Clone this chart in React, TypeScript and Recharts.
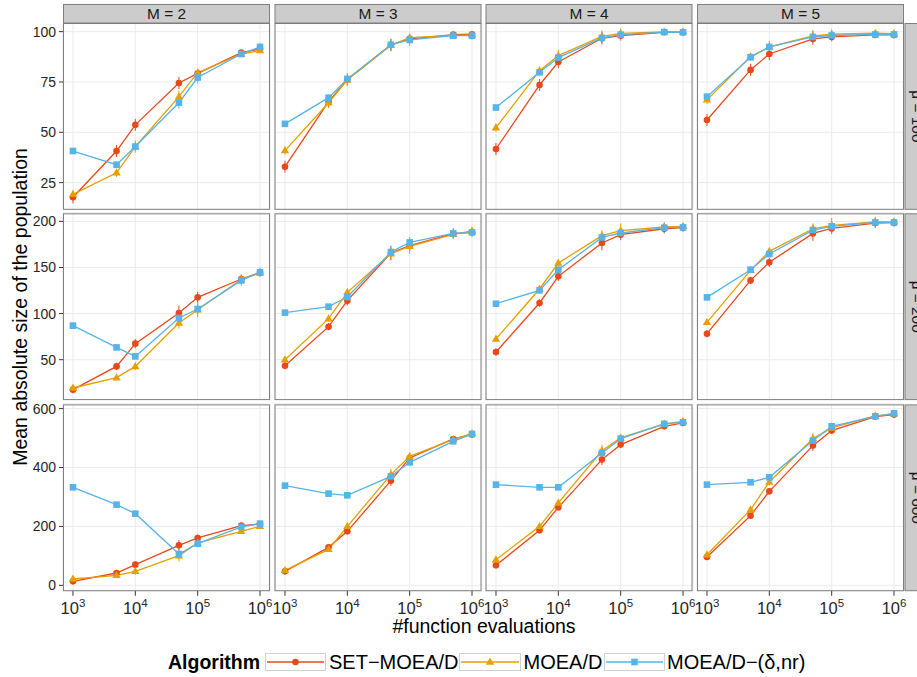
import React from "react";
import { LineChart, Line, XAxis, YAxis, CartesianGrid, ErrorBar } from "recharts";

// ---------------- data ----------------
const evaluations = [1e3, 5e3, 1e4, 5e4, 1e5, 5e5, 1e6];
const muLevels = [100, 200, 600];
const mLevels = [2, 3, 4, 5];
const algorithms = ["SET\u2212MOEA/D", "MOEA/D", "MOEA/D\u2212(\u03b4,nr)"];
const majorTicks = [3, 4, 5, 6];
const yTicks100 = [25, 50, 75, 100];
const yTicks200 = [50, 100, 150, 200];
const yTicks600 = [0, 200, 400, 600];

// mu = 100
const SET_mu100_M2 = [17.7, 40.7, 53.7, 74.5, 79.3, 89.6, 91.4];
const MOEAD_mu100_M2 = [19.2, 29.9, 42.9, 67.7, 79.6, 88.8, 90.6];
const DNR_mu100_M2 = [40.7, 33.9, 42.9, 64.7, 77.2, 88.9, 92.4];
const SET_mu100_M3 = [32.9, 65.2, 76.3, 93.4, 96.4, 98.5, 98.7];
const MOEAD_mu100_M3 = [40.9, 64.7, 76.0, 93.2, 97.0, 98.2, 98.4];
const DNR_mu100_M3 = [54.2, 67.2, 76.5, 93.5, 95.9, 98.0, 98.0];
const SET_mu100_M4 = [41.7, 73.5, 84.9, 96.7, 98.0, 99.7, 99.7];
const MOEAD_mu100_M4 = [52.3, 80.6, 88.1, 97.7, 99.1, 99.9, 99.9];
const DNR_mu100_M4 = [62.3, 79.8, 87.1, 96.9, 98.5, 99.8, 99.7];
const SET_mu100_M5 = [56.1, 81.0, 88.9, 96.4, 97.4, 98.4, 98.4];
const MOEAD_mu100_M5 = [66.1, 87.6, 92.4, 97.9, 98.7, 99.2, 99.0];
const DNR_mu100_M5 = [67.7, 87.3, 92.4, 97.4, 98.1, 98.6, 98.6];

// mu = 200
const SET_mu200_M2 = [17.5, 42.7, 67.4, 100.6, 117.6, 137.5, 144.4];
const MOEAD_mu200_M2 = [19.3, 30.5, 42.7, 89.8, 104.2, 136.8, 144.4];
const DNR_mu200_M2 = [86.9, 63.3, 53.6, 95.2, 105.0, 136.0, 144.7];
const SET_mu200_M3 = [43.5, 85.8, 114.0, 165.7, 173.6, 186.7, 188.1];
const MOEAD_mu200_M3 = [50.0, 94.5, 123.0, 165.0, 172.9, 185.9, 189.6];
const DNR_mu200_M3 = [101.0, 107.5, 118.0, 166.8, 177.2, 187.0, 188.1];
const SET_mu200_M4 = [58.3, 111.5, 140.4, 176.6, 185.6, 192.0, 193.2];
const MOEAD_mu200_M4 = [72.5, 126.7, 154.8, 184.5, 189.9, 193.9, 194.6];
const DNR_mu200_M4 = [110.7, 125.2, 147.6, 182.6, 187.4, 193.2, 193.5];
const SET_mu200_M5 = [78.2, 136.0, 155.6, 187.0, 192.4, 198.2, 198.6];
const MOEAD_mu200_M5 = [90.5, 146.9, 167.5, 192.0, 195.7, 199.5, 199.5];
const DNR_mu200_M5 = [117.6, 147.6, 164.6, 190.6, 194.6, 198.9, 198.9];

// mu = 600
const SET_mu600_M2 = [13.4, 41.8, 70.1, 135.7, 160.8, 202.6, 208.3];
const MOEAD_mu600_M2 = [21.5, 33.8, 47.4, 100.7, 143.8, 183.3, 200.2];
const DNR_mu600_M2 = [332.7, 273.9, 243.3, 106.4, 141.4, 198.2, 209.4];
const SET_mu600_M3 = [47.4, 128.9, 183.3, 355.4, 432.5, 497.0, 511.7];
const MOEAD_mu600_M3 = [50.8, 122.1, 200.2, 375.8, 438.0, 494.7, 516.0];
const DNR_mu600_M3 = [338.4, 311.3, 305.6, 370.0, 417.6, 488.9, 514.0];
const SET_mu600_M4 = [67.8, 186.7, 264.8, 426.8, 477.7, 539.9, 551.4];
const MOEAD_mu600_M4 = [87.1, 200.2, 279.7, 457.0, 500.4, 548.0, 556.9];
const DNR_mu600_M4 = [341.8, 332.7, 332.7, 449.5, 498.0, 548.0, 553.5];
const SET_mu600_M5 = [96.3, 236.6, 319.1, 474.3, 525.3, 572.8, 579.6];
const MOEAD_mu600_M5 = [104.0, 256.9, 351.0, 498.0, 534.4, 575.2, 582.0];
const DNR_mu600_M5 = [341.8, 349.7, 366.7, 491.3, 539.9, 573.9, 584.0];

// error bar half-widths (per row, per algorithm)
const ERR_SET_mu100 = [3, 3, 3, 3, 2, 1, 1];
const ERR_MOEAD_mu100 = [2, 2, 3, 3, 2, 1, 1];
const ERR_DNR_mu100 = [1, 1, 2, 3, 3, 1, 2];
const ERR_SET_mu200 = [4, 4, 5, 8, 6, 5, 3];
const ERR_MOEAD_mu200 = [3, 3, 4, 6, 8, 4, 3];
const ERR_DNR_mu200 = [2, 2, 3, 5, 6, 6, 5];
const ERR_SET_mu600 = [8, 8, 10, 18, 12, 8, 6];
const ERR_MOEAD_mu600 = [8, 8, 12, 20, 12, 8, 6];
const ERR_DNR_mu600 = [5, 5, 6, 10, 12, 8, 6];

// ---------------- tables built from the arrays ----------------
const panelSeries = [
  [
    [SET_mu100_M2, MOEAD_mu100_M2, DNR_mu100_M2],
    [SET_mu100_M3, MOEAD_mu100_M3, DNR_mu100_M3],
    [SET_mu100_M4, MOEAD_mu100_M4, DNR_mu100_M4],
    [SET_mu100_M5, MOEAD_mu100_M5, DNR_mu100_M5],
  ],
  [
    [SET_mu200_M2, MOEAD_mu200_M2, DNR_mu200_M2],
    [SET_mu200_M3, MOEAD_mu200_M3, DNR_mu200_M3],
    [SET_mu200_M4, MOEAD_mu200_M4, DNR_mu200_M4],
    [SET_mu200_M5, MOEAD_mu200_M5, DNR_mu200_M5],
  ],
  [
    [SET_mu600_M2, MOEAD_mu600_M2, DNR_mu600_M2],
    [SET_mu600_M3, MOEAD_mu600_M3, DNR_mu600_M3],
    [SET_mu600_M4, MOEAD_mu600_M4, DNR_mu600_M4],
    [SET_mu600_M5, MOEAD_mu600_M5, DNR_mu600_M5],
  ],
];
const rowErrors = [
  [ERR_SET_mu100, ERR_MOEAD_mu100, ERR_DNR_mu100],
  [ERR_SET_mu200, ERR_MOEAD_mu200, ERR_DNR_mu200],
  [ERR_SET_mu600, ERR_MOEAD_mu600, ERR_DNR_mu600],
];
const rowYTicks = [yTicks100, yTicks200, yTicks600];

const tables = panelSeries.map((row, r) =>
  row.map((series) =>
    evaluations.map((ev, i) => ({
      lx: Math.log10(ev),
      s0: series[0][i],
      s1: series[1][i],
      s2: series[2][i],
      e0: rowErrors[r][0][i],
      e1: rowErrors[r][1][i],
      e2: rowErrors[r][2][i],
    }))
  )
);

// ---------------- layout / style ----------------
const FONT = '"Liberation Sans", Arial, Helvetica, sans-serif';
const COLORS = ["#E8481C", "#E69F00", "#56B4E9"];
const rowTops = [23, 213.3, 404.4];
const colLefts = [63, 274.5, 485.5, 697];
const PW = 207;
const PH = 186.8;
const YW = 63;
const XH = 40;
const MT = 10; // extra room above plot so labels are not clipped
const MS = 14; // extra room at the sides for x labels
const X_DOMAIN: [number, number] = [2.84, 6.16];
const yDomains: [number, number][] = [
  [11.5, 104.3],
  [6.5, 209.1],
  [-18.6, 615.6],
];

const LOG_TICKS: number[] = [];
for (let n = 2; n <= 6; n++) {
  for (let k = 1; k <= 9; k++) {
    const v = Math.log10(k * Math.pow(10, n));
    if (v > X_DOMAIN[0] + 0.004 && v < X_DOMAIN[1]) LOG_TICKS.push(v);
  }
}

const EmptyTick = () => <g />;

const XTick = (props: any) => {
  const { x, y, payload } = props;
  return (
    <g>
      <line x1={x} x2={x} y1={y} y2={y + 5} stroke="#333" strokeWidth={1} />
      <text x={x} y={y + 23} textAnchor="middle" fontFamily={FONT} fill="#262626">
        <tspan fontSize={16.5}>10</tspan>
        <tspan fontSize={11.5} dy={-7}>
          {String(payload.value)}
        </tspan>
      </text>
    </g>
  );
};

const LogTick = (props: any) => {
  const { x, payload } = props;
  const v = payload.value;
  const k = Math.round(Math.pow(10, v - Math.floor(v + 1e-9)));
  const len = k === 1 ? 9 : k === 5 ? 6 : 3.5;
  const bottom = MT + PH;
  return <line x1={x} x2={x} y1={bottom} y2={bottom - len} stroke="#000" strokeWidth={0.9} />;
};

const renderMarker = (k: number, cx: number, cy: number, key?: any) => {
  if (k === 0) return <circle key={key} cx={cx} cy={cy} r={3.3} fill={COLORS[0]} />;
  if (k === 1) {
    const s = 4.4;
    return (
      <path
        key={key}
        d={`M${cx},${cy - s} L${cx + s * 0.95},${cy + s * 0.62} L${cx - s * 0.95},${cy + s * 0.62} Z`}
        fill={COLORS[1]}
      />
    );
  }
  return <rect key={key} x={cx - 3.3} y={cy - 3.3} width={6.6} height={6.6} fill={COLORS[2]} />;
};

const dotFor = (k: number) => (props: any) => {
  const { cx, cy, index } = props;
  if (cx == null || cy == null) return <g key={index} />;
  return renderMarker(k, cx, cy, index);
};

function Panel({ r, c }: { r: number; c: number }) {
  const showY = c === 0;
  const showX = r === 2;
  const ml = showY ? 0 : MS;
  const width = PW + (showY ? YW : 0) + ml + MS;
  const height = PH + (showX ? XH : 0) + MT;
  return (
    <div
      style={{
        position: "absolute",
        left: colLefts[c] - (showY ? YW : 0) - ml,
        top: rowTops[r] - MT,
      }}
    >
      <LineChart
        width={width}
        height={height}
        data={tables[r][c]}
        margin={{ top: MT, right: MS, bottom: 0, left: ml }}
      >
        <CartesianGrid stroke="#ebebeb" strokeWidth={1} />
        <XAxis
          xAxisId={0}
          dataKey="lx"
          type="number"
          domain={X_DOMAIN}
          ticks={majorTicks}
          interval={0}
          allowDataOverflow
          height={showX ? XH : 0}
          axisLine={false}
          tickLine={false}
          tickSize={0}
          tickMargin={0}
          tick={showX ? (p: any) => <XTick {...p} /> : EmptyTick}
        />
        <XAxis
          xAxisId="log"
          orientation="top"
          dataKey="lx"
          type="number"
          domain={X_DOMAIN}
          ticks={LOG_TICKS}
          interval={0}
          allowDataOverflow
          height={0}
          axisLine={false}
          tickLine={false}
          tickSize={0}
          tickMargin={0}
          tick={(p: any) => <LogTick {...p} />}
        />
        <YAxis
          type="number"
          domain={yDomains[r]}
          ticks={rowYTicks[r]}
          interval={0}
          allowDataOverflow
          width={showY ? YW : 0}
          axisLine={false}
          tickLine={showY ? { stroke: "#333" } : false}
          tickSize={showY ? 4 : 0}
          tickMargin={3}
          tick={showY ? { fontSize: 14, fill: "#262626", fontFamily: FONT } : EmptyTick}
        />
        {[0, 1, 2].map((k) => (
          <Line
            key={k}
            xAxisId={0}
            type="linear"
            dataKey={`s${k}`}
            stroke={COLORS[k]}
            strokeWidth={1.3}
            dot={dotFor(k)}
            activeDot={false}
            isAnimationActive={false}
          >
            <ErrorBar dataKey={`e${k}`} width={0} stroke={COLORS[k]} strokeWidth={1} direction="y" />
          </Line>
        ))}
      </LineChart>
    </div>
  );
}

const legendBoxes = [
  { x: 265, w: 60, tx: 329 },
  { x: 459, w: 61, tx: 523.5 },
  { x: 604, w: 60, tx: 667 },
];

export default function App() {
  return (
    <div
      style={{
        position: "absolute",
        left: 0,
        top: 0,
        width: 917,
        height: 677,
        overflow: "hidden",
        background: "#fff",
        fontFamily: FONT,
      }}
    >
      {muLevels.map((_, r) => mLevels.map((__, c) => <Panel key={`${r}-${c}`} r={r} c={c} />))}
      <svg width={917} height={677} style={{ position: "absolute", left: 0, top: 0, pointerEvents: "none" }}>
        {/* panel borders */}
        {muLevels.map((_, r) =>
          mLevels.map((__, c) => (
            <rect
              key={`b${r}-${c}`}
              x={colLefts[c] + 0.5}
              y={rowTops[r] + 0.5}
              width={PW - 1}
              height={PH - 1}
              fill="none"
              stroke="#7f7f7f"
              strokeWidth={1}
            />
          ))
        )}
        {/* top strips */}
        {mLevels.map((m, c) => (
          <g key={`ts${c}`}>
            <rect x={colLefts[c] + 0.5} y={4.5} width={PW - 1} height={18.5} fill="#cccccc" stroke="#7f7f7f" strokeWidth={1} />
            <text x={colLefts[c] + PW / 2} y={19.3} textAnchor="middle" fontSize={15.4} fill="#1a1a1a" fontFamily={FONT}>
              {`M = ${m}`}
            </text>
          </g>
        ))}
        {/* right strips */}
        {muLevels.map((mu, r) => (
          <g key={`rs${r}`}>
            <rect x={905} y={rowTops[r] + 0.5} width={20} height={PH - 1} fill="#cccccc" stroke="#7f7f7f" strokeWidth={1} />
            <text
              transform={`translate(912, ${rowTops[r] + PH / 2}) rotate(90)`}
              textAnchor="middle"
              fontSize={15.4}
              fill="#1a1a1a"
              fontFamily={FONT}
            >
              {`\u03bc = ${mu}`}
            </text>
          </g>
        ))}
        {/* axis titles */}
        <text transform="translate(27, 307) rotate(-90)" textAnchor="middle" fontSize={19.5} fill="#000" fontFamily={FONT}>
          Mean absolute size of the population
        </text>
        <text x={484} y={633} textAnchor="middle" fontSize={19.5} fill="#000" fontFamily={FONT}>
          #function evaluations
        </text>
        {/* legend */}
        <text x={168} y={668.5} fontSize={19.5} fontWeight="bold" fill="#000" fontFamily={FONT}>
          Algorithm
        </text>
        {legendBoxes.map((b, k) => (
          <g key={`lg${k}`}>
            <rect x={b.x + 0.5} y={653.5} width={b.w} height={17} fill="#fff" stroke="#d0d0d0" strokeWidth={1} />
            <line x1={b.x + 2} x2={b.x + b.w - 1} y1={662} y2={662} stroke={COLORS[k]} strokeWidth={1.3} />
            {renderMarker(k, b.x + b.w / 2 + 0.5, 662)}
            <text x={b.tx} y={668.5} fontSize={20} fill="#000" fontFamily={FONT}>
              {algorithms[k]}
            </text>
          </g>
        ))}
      </svg>
    </div>
  );
}
